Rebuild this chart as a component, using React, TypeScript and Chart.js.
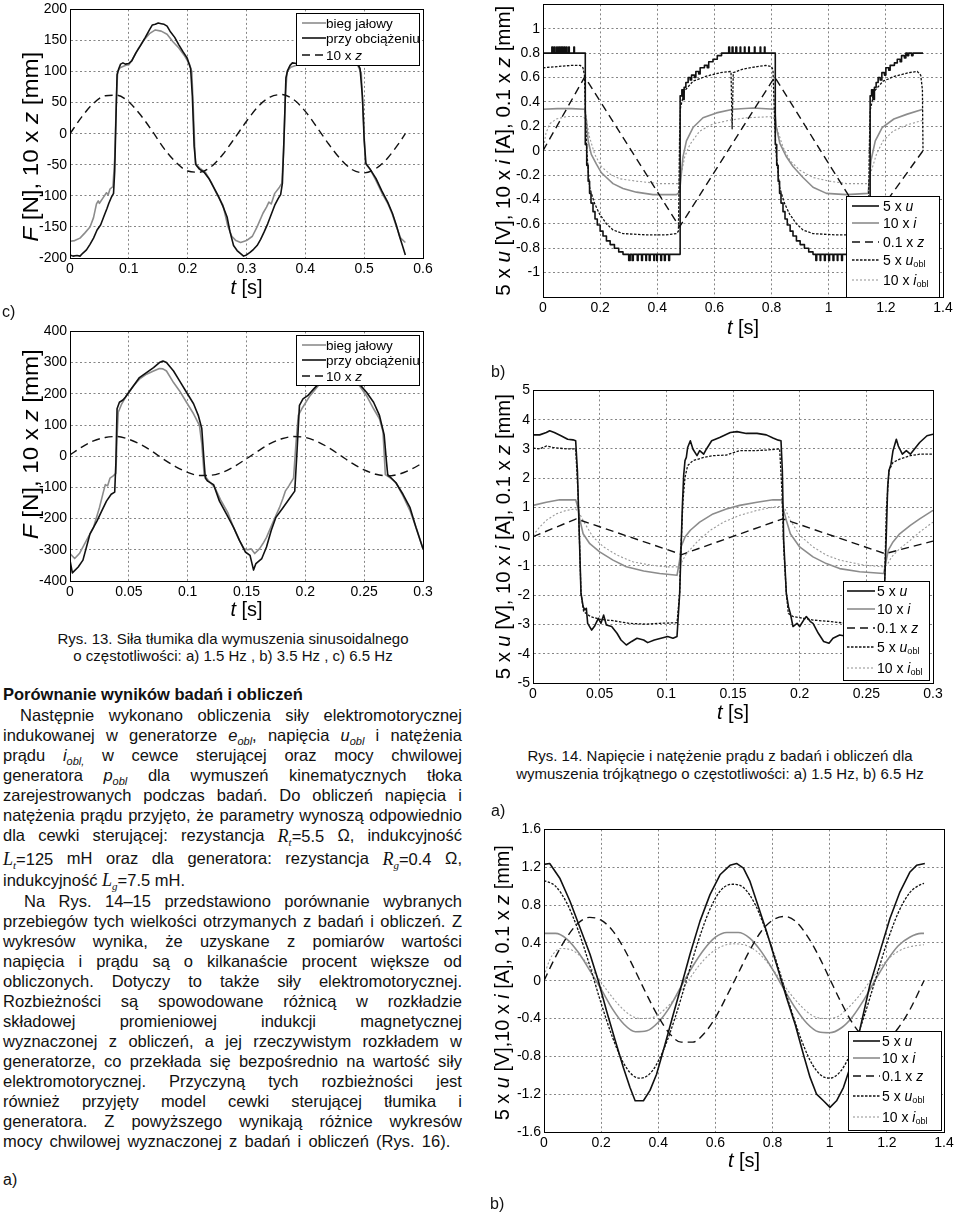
import React, { useEffect, useRef } from 'react';
import { Chart, registerables } from 'chart.js';

Chart.register(...registerables);

type P = [number, number];
type Seg = { t: string; i?: boolean; sub?: boolean };

const SANS = '"Liberation Sans", Arial, Helvetica, sans-serif';

// ---------------- Rys. 13 b) (top-left) ----------------
const r13bIdle: P[] = [
  [0, -173], [0.008, -172], [0.017, -168], [0.025, -160], [0.034, -150], [0.04, -135], [0.045, -113], [0.048, -108],
  [0.05, -112], [0.057, -102], [0.062, -95], [0.065, -98], [0.068, -89], [0.073, -85], [0.076, -40], [0.079, 60],
  [0.081, 100], [0.085, 106], [0.09, 108], [0.095, 110], [0.1, 111], [0.105, 118], [0.115, 135], [0.125, 150],
  [0.135, 161], [0.145, 167], [0.155, 165], [0.165, 160], [0.175, 148], [0.185, 138], [0.195, 125], [0.203, 112],
  [0.207, 100], [0.21, 30], [0.213, -48], [0.22, -55], [0.23, -62], [0.24, -78], [0.25, -98], [0.26, -115],
  [0.268, -148], [0.275, -165], [0.282, -172], [0.29, -175], [0.3, -172], [0.31, -165], [0.318, -150], [0.328, -128],
  [0.334, -118], [0.338, -110], [0.342, -113], [0.348, -96], [0.356, -86], [0.36, -80], [0.363, -30], [0.366, 60],
  [0.369, 100], [0.375, 107], [0.385, 110], [0.4, 125], [0.41, 140], [0.42, 152], [0.43, 163], [0.44, 166],
  [0.45, 162], [0.46, 150], [0.47, 138], [0.48, 124], [0.49, 108], [0.495, 98], [0.499, 20], [0.502, -48],
  [0.51, -57], [0.52, -75], [0.53, -95], [0.54, -112], [0.548, -130], [0.555, -150], [0.562, -168], [0.57, -175],
];
const r13bLoad: P[] = [
  [0, -195], [0.005, -197], [0.012, -196], [0.017, -197], [0.022, -192], [0.028, -187], [0.034, -178], [0.04, -168],
  [0.046, -155], [0.052, -147], [0.058, -132], [0.063, -120], [0.066, -112], [0.07, -103], [0.074, -96], [0.076, -60],
  [0.078, 20], [0.08, 95], [0.083, 105], [0.086, 112], [0.09, 114], [0.094, 112], [0.1, 113], [0.105, 117],
  [0.112, 130], [0.12, 142], [0.128, 155], [0.135, 167], [0.14, 175], [0.145, 176], [0.15, 178], [0.155, 177],
  [0.16, 176], [0.165, 173], [0.17, 165], [0.178, 155], [0.185, 143], [0.192, 132], [0.199, 122], [0.205, 105],
  [0.208, 60], [0.211, -20], [0.214, -50], [0.22, -57], [0.228, -62], [0.236, -72], [0.244, -86], [0.252, -100],
  [0.26, -117], [0.267, -134], [0.272, -158], [0.278, -180], [0.284, -188], [0.29, -193], [0.295, -197], [0.3, -195],
  [0.306, -191], [0.312, -186], [0.318, -180], [0.324, -170], [0.33, -158], [0.336, -145], [0.342, -130], [0.348, -115],
  [0.354, -104], [0.358, -98], [0.361, -80], [0.364, 0], [0.367, 90], [0.37, 102], [0.374, 110], [0.378, 114],
  [0.385, 113], [0.392, 118], [0.4, 132], [0.41, 148], [0.42, 163], [0.43, 173], [0.44, 177], [0.45, 175],
  [0.46, 165], [0.47, 148], [0.48, 130], [0.487, 115], [0.493, 105], [0.497, 60], [0.5, -10], [0.503, -48],
  [0.51, -57], [0.52, -72], [0.53, -92], [0.54, -110], [0.548, -128], [0.555, -148], [0.56, -165], [0.565, -180],
  [0.57, -195],
];
const r13bZ: P[] = [
  [0, 0], [0.02, 27], [0.04, 49], [0.06, 61], [0.08, 62], [0.1, 51], [0.12, 30], [0.14, 4], [0.16, -24], [0.18, -46],
  [0.2, -60], [0.22, -62], [0.24, -53], [0.26, -33], [0.28, -7], [0.3, 20], [0.32, 44], [0.34, 59], [0.36, 63],
  [0.38, 55], [0.4, 36], [0.42, 10], [0.44, -17], [0.46, -41], [0.48, -58], [0.5, -63], [0.52, -56], [0.54, -39],
  [0.56, -14], [0.57, 0],
];

// ---------------- Rys. 13 c) ----------------
const r13cIdle: P[] = [
  [0, -312], [0.004, -328], [0.008, -312], [0.014, -270], [0.02, -228], [0.025, -165], [0.028, -120], [0.03, -91],
  [0.032, -95], [0.034, -70], [0.037, -62], [0.039, -55], [0.04, 60], [0.041, 141], [0.044, 168], [0.048, 194],
  [0.054, 226], [0.059, 247], [0.065, 263], [0.071, 273], [0.076, 281], [0.079, 280], [0.082, 273], [0.088, 236],
  [0.093, 210], [0.099, 173], [0.105, 136], [0.11, 99], [0.112, 40], [0.114, -59], [0.118, -80], [0.123, -100],
  [0.128, -140], [0.134, -180], [0.139, -228], [0.144, -270], [0.148, -297], [0.151, -300], [0.154, -297], [0.157, -312],
  [0.161, -297], [0.164, -280], [0.167, -260], [0.173, -207], [0.178, -165], [0.181, -135], [0.183, -112], [0.186, -95],
  [0.19, -70], [0.192, 40], [0.194, 131], [0.197, 152], [0.204, 194], [0.211, 226], [0.22, 262], [0.228, 278],
  [0.236, 282], [0.242, 262], [0.246, 226], [0.252, 194], [0.258, 152], [0.263, 120], [0.266, 78], [0.268, -59],
  [0.273, -72], [0.277, -85], [0.283, -127], [0.289, -175], [0.294, -228], [0.3, -297],
];
const r13cLoad: P[] = [
  [0, -333], [0.002, -374], [0.007, -355], [0.011, -333], [0.014, -291], [0.017, -249], [0.023, -207], [0.027, -175],
  [0.031, -144], [0.035, -122], [0.038, -115], [0.039, -20], [0.04, 152], [0.042, 173], [0.045, 180], [0.047, 189],
  [0.05, 205], [0.054, 226], [0.059, 252], [0.065, 268], [0.071, 284], [0.076, 300], [0.079, 305], [0.082, 300],
  [0.088, 273], [0.093, 242], [0.099, 205], [0.105, 168], [0.109, 131], [0.112, 89], [0.114, -20], [0.115, -70],
  [0.117, -80], [0.122, -91], [0.127, -144], [0.133, -186], [0.139, -228], [0.144, -270], [0.149, -307], [0.153, -318],
  [0.156, -365], [0.158, -344], [0.163, -328], [0.167, -291], [0.171, -238], [0.175, -196], [0.181, -165], [0.187, -133],
  [0.191, -112], [0.193, 20], [0.195, 163], [0.198, 184], [0.202, 194], [0.207, 215], [0.211, 231], [0.218, 265],
  [0.226, 290], [0.234, 302], [0.24, 280], [0.246, 231], [0.252, 205], [0.258, 173], [0.263, 131], [0.267, 68],
  [0.269, -20], [0.27, -59], [0.273, -70], [0.277, -85], [0.283, -122], [0.289, -165], [0.294, -228], [0.3, -297],
];
const r13cZ: P[] = [
  [0, 4], [0.01, 29], [0.02, 49], [0.03, 60], [0.04, 63], [0.05, 54], [0.06, 38], [0.07, 15], [0.08, -11], [0.09, -34],
  [0.1, -52], [0.11, -62], [0.12, -61], [0.13, -51], [0.14, -32], [0.15, -8], [0.16, 17], [0.17, 40], [0.18, 56],
  [0.19, 63], [0.2, 60], [0.21, 47], [0.22, 27], [0.23, 2], [0.24, -23], [0.25, -44], [0.26, -58], [0.27, -63],
  [0.28, -57], [0.29, -42], [0.3, -21],
];

// ---------------- Rys. 14 a) ----------------
const r14aU: P[] = [
  [0, 0.8], [0.03, 0.8], [0.031, 0.85], [0.035, 0.8], [0.04, 0.85], [0.042, 0.8], [0.048, 0.85], [0.05, 0.8],
  [0.055, 0.85], [0.058, 0.8], [0.062, 0.85], [0.065, 0.8], [0.068, 0.85], [0.07, 0.8], [0.074, 0.85], [0.077, 0.8],
  [0.082, 0.85], [0.084, 0.8], [0.09, 0.85], [0.092, 0.8], [0.108, 0.85], [0.11, 0.8], [0.146, 0.8],
  [0.148, 0.05], [0.153, -0.12], [0.158, -0.25], [0.163, -0.35], [0.168, -0.43], [0.175, -0.5], [0.182, -0.56],
  [0.19, -0.61], [0.2, -0.66], [0.21, -0.7], [0.222, -0.74], [0.235, -0.77], [0.25, -0.8], [0.265, -0.83], [0.28, -0.85],
  [0.3, -0.9], [0.305, -0.85], [0.312, -0.9], [0.316, -0.85], [0.33, -0.9], [0.333, -0.85], [0.345, -0.9], [0.348, -0.85],
  [0.36, -0.9], [0.362, -0.85], [0.372, -0.9], [0.375, -0.85], [0.388, -0.9], [0.39, -0.85], [0.398, -0.9], [0.4, -0.85],
  [0.412, -0.9], [0.415, -0.85], [0.425, -0.9], [0.428, -0.85], [0.44, -0.9], [0.443, -0.85], [0.478, -0.85],
  [0.48, 0.45], [0.486, 0.5], [0.49, 0.42], [0.494, 0.52], [0.5, 0.56], [0.508, 0.6], [0.515, 0.58], [0.52, 0.62],
  [0.53, 0.6], [0.535, 0.65], [0.545, 0.63], [0.55, 0.68], [0.565, 0.7], [0.575, 0.68], [0.58, 0.73], [0.595, 0.75],
  [0.61, 0.78], [0.625, 0.8], [0.65, 0.85], [0.653, 0.8], [0.662, 0.85], [0.665, 0.8], [0.675, 0.85], [0.678, 0.8],
  [0.69, 0.85], [0.692, 0.8], [0.705, 0.85], [0.707, 0.8], [0.72, 0.85], [0.722, 0.8], [0.74, 0.85], [0.742, 0.8],
  [0.76, 0.85], [0.762, 0.8], [0.775, 0.85], [0.777, 0.8], [0.811, 0.8],
  [0.813, 0.05], [0.818, -0.12], [0.823, -0.25], [0.828, -0.35], [0.833, -0.43], [0.84, -0.5], [0.847, -0.56],
  [0.855, -0.61], [0.865, -0.66], [0.875, -0.7], [0.887, -0.74], [0.9, -0.77], [0.915, -0.8], [0.93, -0.83], [0.945, -0.85],
  [0.955, -0.9], [0.958, -0.85], [0.97, -0.9], [0.972, -0.85], [0.985, -0.9], [0.988, -0.85], [1.0, -0.9], [1.003, -0.85],
  [1.015, -0.9], [1.018, -0.85], [1.03, -0.9], [1.032, -0.85], [1.045, -0.9], [1.048, -0.85], [1.143, -0.85],
  [1.145, 0.45], [1.15, 0.5], [1.155, 0.42], [1.16, 0.52], [1.166, 0.56], [1.173, 0.6], [1.18, 0.58], [1.186, 0.64],
  [1.195, 0.62], [1.2, 0.68], [1.21, 0.66], [1.215, 0.7], [1.23, 0.72], [1.24, 0.75], [1.25, 0.73], [1.255, 0.78],
  [1.265, 0.76], [1.27, 0.8], [1.275, 0.78], [1.28, 0.8], [1.29, 0.78], [1.295, 0.8], [1.33, 0.8],
];
const r14aI: P[] = [
  [0, 0.34], [0.05, 0.345], [0.1, 0.345], [0.146, 0.34], [0.152, 0.25], [0.158, 0.08], [0.169, -0.03], [0.187, -0.11],
  [0.204, -0.18], [0.222, -0.22], [0.245, -0.27], [0.28, -0.31], [0.327, -0.34], [0.385, -0.36], [0.467, -0.36],
  [0.478, -0.34], [0.49, -0.05], [0.502, 0.08], [0.525, 0.19], [0.56, 0.27], [0.607, 0.31], [0.665, 0.34], [0.735, 0.35],
  [0.811, 0.34], [0.817, 0.19], [0.829, 0.06], [0.852, -0.05], [0.875, -0.13], [0.91, -0.22], [0.945, -0.3],
  [0.992, -0.35], [1.062, -0.36], [1.138, -0.35], [1.148, -0.08], [1.163, 0.08], [1.187, 0.19], [1.228, 0.26],
  [1.275, 0.3], [1.33, 0.34],
];
const r14aZ: P[] = [[0, 0], [0.146, 0.605], [0.478, -0.625], [0.811, 0.605], [1.138, -0.625], [1.33, 0]];
const r14aUobl: P[] = [
  [0, 0.68], [0.05, 0.69], [0.1, 0.7], [0.13, 0.7], [0.14, 0.68], [0.145, 0.62], [0.15, 0.2], [0.153, 0], [0.163, -0.3],
  [0.18, -0.43], [0.198, -0.52], [0.222, -0.6], [0.245, -0.65], [0.28, -0.68], [0.36, -0.69], [0.43, -0.69],
  [0.467, -0.68], [0.474, -0.66], [0.478, 0.1], [0.481, 0.35], [0.495, 0.49], [0.525, 0.57], [0.57, 0.61], [0.62, 0.64],
  [0.658, 0.65], [0.662, 0.18], [0.666, 0.64], [0.7, 0.67], [0.75, 0.69], [0.78, 0.7], [0.8, 0.69], [0.805, 0.66],
  [0.81, 0.3], [0.815, 0], [0.828, -0.3], [0.845, -0.43], [0.863, -0.52], [0.887, -0.6], [0.91, -0.65], [0.945, -0.68],
  [1.02, -0.69], [1.1, -0.69], [1.138, -0.68], [1.142, 0], [1.145, 0.33], [1.16, 0.49], [1.19, 0.57], [1.23, 0.61],
  [1.28, 0.64], [1.31, 0.65], [1.322, 0.62], [1.328, 0.5], [1.33, 0],
];
const r14aIobl: P[] = [
  [0, 0], [0.01, 0.14], [0.023, 0.22], [0.047, 0.26], [0.082, 0.28], [0.14, 0.28], [0.152, 0.25], [0.163, 0.11],
  [0.181, -0.03], [0.204, -0.13], [0.233, -0.19], [0.268, -0.23], [0.327, -0.25], [0.408, -0.27], [0.472, -0.27],
  [0.484, -0.19], [0.496, -0.05], [0.514, 0.05], [0.548, 0.16], [0.595, 0.22], [0.653, 0.25], [0.712, 0.27], [0.805, 0.28],
  [0.822, 0.16], [0.84, 0.03], [0.864, -0.08], [0.899, -0.16], [0.945, -0.22], [1.003, -0.25], [1.062, -0.27],
  [1.138, -0.27], [1.15, -0.16], [1.167, -0.03], [1.19, 0.08], [1.225, 0.16], [1.272, 0.21], [1.33, 0.25],
];

// ---------------- Rys. 14 b) ----------------
const r14bU: P[] = [
  [0, 3.48], [0.005, 3.48], [0.01, 3.56], [0.0125, 3.62], [0.016, 3.56], [0.021, 3.45], [0.026, 3.33], [0.03, 3.31],
  [0.032, 3.28], [0.0333, 2.26], [0.035, -0.35], [0.036, -1.94], [0.0376, -2.39], [0.0388, -2.5], [0.04, -2.45],
  [0.041, -2.96], [0.044, -3.19], [0.046, -3.07], [0.049, -2.79], [0.051, -2.96], [0.053, -2.68], [0.055, -3.02],
  [0.059, -3.07], [0.063, -3.3], [0.066, -3.53], [0.07, -3.7], [0.074, -3.58], [0.078, -3.47], [0.083, -3.53],
  [0.086, -3.62], [0.091, -3.53], [0.096, -3.47], [0.101, -3.41], [0.105, -3.47], [0.108, -3.41], [0.11, -1.94],
  [0.111, -0.46], [0.112, 1.01], [0.113, 2.09], [0.114, 2.6], [0.115, 2.71], [0.116, 3.05], [0.118, 3.28], [0.12, 2.99],
  [0.123, 2.77], [0.125, 2.94], [0.128, 2.82], [0.13, 2.99], [0.134, 3.28], [0.14, 3.39], [0.148, 3.56], [0.153, 3.59],
  [0.16, 3.53], [0.168, 3.53], [0.175, 3.48], [0.18, 3.37], [0.184, 3.3], [0.186, 3.28], [0.187, 2.26], [0.188, -0.12],
  [0.19, -1.94], [0.1916, -2.39], [0.193, -2.62], [0.195, -3.07], [0.198, -2.96], [0.2, -3.07], [0.203, -2.85],
  [0.205, -2.73], [0.208, -2.9], [0.21, -2.96], [0.214, -3.3], [0.218, -3.58], [0.222, -3.64], [0.225, -3.47],
  [0.23, -3.36], [0.235, -3.4], [0.245, -3.45], [0.255, -3.38], [0.2625, -3.3], [0.2635, -1.94], [0.265, 0.1],
  [0.266, 1.69], [0.267, 2.26], [0.2685, 2.48], [0.27, 2.94], [0.2725, 3.33], [0.274, 3.1], [0.277, 2.82], [0.28, 2.94],
  [0.283, 2.82], [0.287, 3.05], [0.29, 3.22], [0.2955, 3.45], [0.3, 3.5],
];
const r14bI: P[] = [
  [0, 1.07], [0.01, 1.18], [0.02, 1.26], [0.032, 1.26], [0.034, 0.95], [0.035, 0.61], [0.0376, 0.1], [0.0426, -0.24],
  [0.05, -0.52], [0.06, -0.8], [0.07, -1.03], [0.083, -1.17], [0.095, -1.26], [0.108, -1.32], [0.11, -0.8],
  [0.111, -0.35], [0.114, -0.01], [0.118, 0.22], [0.125, 0.5], [0.135, 0.78], [0.145, 0.95], [0.155, 1.07],
  [0.168, 1.18], [0.18, 1.26], [0.1866, 1.26], [0.188, 0.9], [0.19, 0.56], [0.193, 0.1], [0.2, -0.35], [0.21, -0.69],
  [0.22, -0.92], [0.23, -1.09], [0.245, -1.2], [0.263, -1.26], [0.265, -0.8], [0.2665, -0.46], [0.27, -0.18],
  [0.275, 0.1], [0.283, 0.39], [0.29, 0.61], [0.3, 0.9],
];
const r14bZ: P[] = [[0, 0], [0.0325, 0.61], [0.1115, -0.61], [0.1873, 0.61], [0.264, -0.58], [0.3, -0.15]];
const r14bUobl: P[] = [
  [0, 3.03], [0.005, 3.0], [0.01, 3.1], [0.015, 3.05], [0.025, 3.0], [0.032, 3.0], [0.0338, 1.46], [0.035, -0.35],
  [0.036, -1.94], [0.038, -2.56], [0.043, -2.73], [0.05, -2.82], [0.06, -2.87], [0.072, -2.96], [0.085, -2.99],
  [0.095, -2.96], [0.108, -2.94], [0.11, -1.94], [0.111, -0.35], [0.1125, 1.24], [0.114, 2.03], [0.116, 2.43],
  [0.12, 2.6], [0.128, 2.71], [0.135, 2.77], [0.145, 2.79], [0.155, 2.94], [0.165, 2.94], [0.175, 2.96], [0.185, 3.0],
  [0.1868, 1.46], [0.188, -0.35], [0.19, -1.94], [0.1915, -2.62], [0.195, -2.73], [0.203, -2.79], [0.21, -2.85],
  [0.223, -2.9], [0.235, -2.96], [0.25, -2.96], [0.2625, -2.96], [0.2638, -1.37], [0.265, 0.9], [0.267, 2.26],
  [0.27, 2.54], [0.275, 2.65], [0.283, 2.77], [0.29, 2.82], [0.3, 2.82],
];
const r14bIobl: P[] = [
  [0, 0.04], [0.005, 0.33], [0.01, 0.56], [0.0175, 0.78], [0.025, 0.9], [0.032, 0.95], [0.035, 0.78], [0.039, 0.44],
  [0.045, -0.01], [0.053, -0.35], [0.063, -0.63], [0.075, -0.86], [0.088, -0.97], [0.1, -1.03], [0.109, -1.03],
  [0.111, -0.92], [0.115, -0.58], [0.123, -0.18], [0.133, 0.22], [0.143, 0.5], [0.155, 0.73], [0.168, 0.9], [0.18, 1.01],
  [0.1866, 1.04], [0.189, 0.95], [0.193, 0.56], [0.2, 0.05], [0.21, -0.35], [0.22, -0.63], [0.23, -0.8], [0.248, -0.97],
  [0.263, -1.03], [0.2655, -0.97], [0.269, -0.69], [0.275, -0.41], [0.283, -0.12], [0.29, 0.16], [0.3, 0.5],
];

// ---------------- Rys. 15 a) ----------------
const r15aU: P[] = [
  [0, 1.23], [0.02, 1.24], [0.056, 1.08], [0.091, 0.84], [0.126, 0.56], [0.161, 0.28], [0.19, 0], [0.219, -0.32],
  [0.249, -0.63], [0.278, -0.92], [0.301, -1.13], [0.319, -1.27], [0.348, -1.27], [0.371, -1.16], [0.394, -0.99],
  [0.424, -0.67], [0.453, -0.35], [0.482, -0.04], [0.511, 0.28], [0.546, 0.63], [0.581, 0.91], [0.616, 1.12],
  [0.651, 1.22], [0.674, 1.24], [0.698, 1.19], [0.721, 1.05], [0.744, 0.84], [0.779, 0.52], [0.814, 0.17],
  [0.849, -0.18], [0.879, -0.46], [0.908, -0.78], [0.931, -1.02], [0.954, -1.2], [0.978, -1.27], [1.001, -1.34],
  [1.024, -1.27], [1.048, -1.13], [1.071, -0.92], [1.094, -0.67], [1.118, -0.35], [1.141, -0.04], [1.176, 0.31],
  [1.211, 0.66], [1.246, 0.94], [1.281, 1.15], [1.304, 1.22], [1.333, 1.24],
];
const r15aI: P[] = [
  [0, 0.5], [0.04, 0.5], [0.08, 0.44], [0.12, 0.3], [0.16, 0.11], [0.2, -0.09], [0.24, -0.3], [0.28, -0.46],
  [0.32, -0.54], [0.36, -0.53], [0.4, -0.44], [0.44, -0.28], [0.48, -0.06], [0.52, 0.15], [0.56, 0.33], [0.6, 0.46],
  [0.64, 0.51], [0.68, 0.51], [0.72, 0.45], [0.76, 0.31], [0.8, 0.12], [0.84, -0.09], [0.88, -0.29], [0.92, -0.45],
  [0.96, -0.54], [1.0, -0.55], [1.04, -0.5], [1.08, -0.38], [1.12, -0.2], [1.16, 0.01], [1.2, 0.21], [1.24, 0.37],
  [1.28, 0.46], [1.32, 0.5], [1.33, 0.5],
];
const r15aZ: P[] = [
  [0, 0], [0.04, 0.25], [0.08, 0.46], [0.12, 0.61], [0.16, 0.67], [0.2, 0.64], [0.24, 0.53], [0.28, 0.34], [0.32, 0.1],
  [0.36, -0.15], [0.4, -0.38], [0.44, -0.56], [0.48, -0.65], [0.52, -0.65], [0.56, -0.56], [0.6, -0.39], [0.64, -0.16],
  [0.68, 0.08], [0.72, 0.32], [0.76, 0.52], [0.8, 0.64], [0.84, 0.68], [0.88, 0.63], [0.92, 0.48], [0.96, 0.27],
  [1.0, 0.02], [1.04, -0.23], [1.08, -0.45], [1.12, -0.6], [1.16, -0.66], [1.2, -0.63], [1.24, -0.5], [1.28, -0.31],
  [1.33, 0],
];
const r15aUobl: P[] = [
  [0, 1.06], [0.04, 1.0], [0.08, 0.82], [0.12, 0.53], [0.16, 0.16], [0.2, -0.24], [0.24, -0.6], [0.28, -0.88],
  [0.32, -1.02], [0.34, -1.03], [0.38, -0.95], [0.42, -0.72], [0.46, -0.38], [0.5, 0.02], [0.54, 0.42], [0.58, 0.75],
  [0.62, 0.96], [0.66, 1.02], [0.7, 0.98], [0.74, 0.8], [0.78, 0.5], [0.82, 0.14], [0.86, -0.26], [0.9, -0.62],
  [0.94, -0.89], [0.98, -1.02], [1.0, -1.03], [1.04, -0.95], [1.08, -0.72], [1.12, -0.38], [1.16, 0.01], [1.2, 0.4],
  [1.24, 0.72], [1.28, 0.93], [1.32, 1.02], [1.33, 1.03],
];
const r15aIobl: P[] = [
  [0, 0.05], [0.02, 0.22], [0.04, 0.31], [0.06, 0.34], [0.1, 0.32], [0.14, 0.22], [0.18, 0.07], [0.22, -0.1],
  [0.26, -0.25], [0.3, -0.36], [0.34, -0.4], [0.38, -0.39], [0.42, -0.31], [0.46, -0.18], [0.5, -0.02], [0.54, 0.15],
  [0.58, 0.28], [0.62, 0.36], [0.66, 0.39], [0.7, 0.38], [0.74, 0.32], [0.78, 0.2], [0.82, 0.04], [0.86, -0.13],
  [0.9, -0.27], [0.94, -0.37], [0.98, -0.4], [1.02, -0.39], [1.06, -0.3], [1.1, -0.17], [1.14, -0.01], [1.18, 0.15],
  [1.22, 0.27], [1.26, 0.34], [1.3, 0.37], [1.33, 0.38],
];

// ---------------- labels ----------------
const titleF: Seg[] = [{ t: 'F', i: true }, { t: ' [N], 10 x ' }, { t: 'z', i: true }, { t: ' [mm]' }];
const titleUIZ: Seg[] = [{ t: '5 x ' }, { t: 'u', i: true }, { t: ' [V], 10 x ' }, { t: 'i', i: true }, { t: ' [A], 0.1 x ' }, { t: 'z', i: true }, { t: ' [mm]' }];
const titleUIZ2: Seg[] = [{ t: '5 x ' }, { t: 'u', i: true }, { t: ' [V],10 x ' }, { t: 'i', i: true }, { t: ' [A], 0.1 x ' }, { t: 'z', i: true }, { t: ' [mm]' }];
const titleT: Seg[] = [{ t: 't', i: true }, { t: ' [s]' }];
const legendF: Seg[][] = [[{ t: 'bieg jałowy' }], [{ t: 'przy obciążeniu' }], [{ t: '10 x ' }, { t: 'z', i: true }]];
const legendU: Seg[][] = [
  [{ t: '5 x ' }, { t: 'u', i: true }],
  [{ t: '10 x ' }, { t: 'i', i: true }],
  [{ t: '0.1 x ' }, { t: 'z', i: true }],
  [{ t: '5 x ' }, { t: 'u', i: true }, { t: 'obl', sub: true }],
  [{ t: '10 x ' }, { t: 'i', i: true }, { t: 'obl', sub: true }],
];

const STYLES: Record<string, { color: string; width: number; dash: number[] }> = {
  black: { color: '#111111', width: 1.6, dash: [] },
  gray: { color: '#8c8c8c', width: 1.6, dash: [] },
  dash: { color: '#111111', width: 1.4, dash: [8, 5] },
  bdot: { color: '#111111', width: 1.3, dash: [2.5, 1.5] },
  gdot: { color: '#9a9a9a', width: 1.1, dash: [2, 2] },
};

interface Series { data: P[]; style: string; stepped?: boolean; smooth?: boolean; order: number }
interface Axis { min: number; max: number; step: number; hide?: number[] }
interface Legend { x: number; y: number; w: number; h: number; s0: number; s1: number; tx: number; rows: number[]; labels: Seg[][]; font: number }
interface PlotCfg {
  box: { l: number; t: number; r: number; b: number };
  ml: number; mt: number; mr: number; mb: number;
  x: Axis; y: Axis; series: Series[];
  yTitle: { segs: Seg[]; dx: number; dy: number; len: number; size: number };
  xTitle: { segs: Seg[]; dy: number; size: number };
  legend: Legend;
}

const fmt = (v: number) => String(Math.round(v * 10000) / 10000);

function segFont(s: Seg, size: number) {
  const sz = s.sub ? size * 0.65 : size;
  return `${s.i ? 'italic ' : ''}${sz}px ${SANS}`;
}
function measureSegs(ctx: CanvasRenderingContext2D, segs: Seg[], size: number) {
  let w = 0;
  for (const s of segs) { ctx.font = segFont(s, size); w += ctx.measureText(s.t).width; }
  return w;
}
function drawSegs(ctx: CanvasRenderingContext2D, segs: Seg[], x: number, y: number, size: number) {
  let cx = x;
  ctx.textAlign = 'left';
  ctx.textBaseline = 'alphabetic';
  for (const s of segs) {
    ctx.font = segFont(s, size);
    ctx.fillText(s.t, cx, s.sub ? y + size * 0.52 : y + size * 0.36);
    cx += ctx.measureText(s.t).width;
  }
}

function buildConfig(cfg: PlotCfg): any {
  const datasets = cfg.series.map((s) => {
    const st = STYLES[s.style];
    return {
      data: s.data.map(([x, y]) => ({ x, y })),
      borderColor: st.color,
      borderWidth: st.width,
      borderDash: st.dash,
      pointRadius: 0,
      fill: false,
      tension: 0,
      cubicInterpolationMode: s.smooth ? 'monotone' : 'default',
      stepped: s.stepped ? 'before' : false,
      order: s.order,
      borderJoinStyle: 'round',
    };
  });
  const tickFont = { family: SANS, size: 14 };
  const mkScale = (ax: Axis, isX: boolean) => ({
    type: 'linear',
    min: ax.min,
    max: ax.max,
    afterFit: (sc: any) => { if (isX) sc.height = cfg.mb; else sc.width = cfg.ml; },
    ticks: {
      stepSize: ax.step,
      autoSkip: false,
      maxRotation: 0,
      minRotation: 0,
      padding: 3,
      color: '#000',
      font: tickFont,
      callback: (v: number) => (ax.hide && ax.hide.some((h) => Math.abs(h - v) < 1e-9) ? '' : fmt(v)),
    },
    grid: { color: '#666', lineWidth: 0.8, drawTicks: false },
    border: { display: true, color: '#000', width: 1, dash: [2, 2.5] },
  });
  const deco = {
    id: 'deco',
    afterDatasetsDraw(chart: any) {
      const ctx: CanvasRenderingContext2D = chart.ctx;
      const a = chart.chartArea;
      ctx.save();
      ctx.setLineDash([]);
      ctx.strokeStyle = '#000';
      ctx.lineWidth = 1;
      ctx.strokeRect(Math.round(a.left) + 0.5, Math.round(a.top) + 0.5, Math.round(a.right - a.left), Math.round(a.bottom - a.top));
      // legend box
      const L = cfg.legend;
      const bx = Math.round(a.left + L.x);
      const by = Math.round(a.top + L.y);
      ctx.fillStyle = '#fff';
      ctx.fillRect(bx, by, L.w, L.h);
      ctx.strokeRect(bx + 0.5, by + 0.5, L.w, L.h);
      L.rows.forEach((ry, k) => {
        const ds = chart.data.datasets[k];
        const yy = by + ry;
        ctx.strokeStyle = ds.borderColor;
        ctx.lineWidth = ds.borderWidth;
        ctx.setLineDash(ds.borderDash || []);
        ctx.beginPath();
        ctx.moveTo(bx + L.s0, yy);
        ctx.lineTo(bx + L.s1, yy);
        ctx.stroke();
        ctx.setLineDash([]);
        ctx.fillStyle = '#000';
        drawSegs(ctx, L.labels[k], bx + L.tx, yy, L.font);
      });
      // y title
      const Y = cfg.yTitle;
      const w = measureSegs(ctx, Y.segs, Y.size);
      ctx.save();
      ctx.translate(a.left + Y.dx, (a.top + a.bottom) / 2 + Y.dy);
      ctx.rotate(-Math.PI / 2);
      ctx.scale(Y.len / w, 1);
      ctx.fillStyle = '#000';
      drawSegs(ctx, Y.segs, -w / 2, 0, Y.size);
      ctx.restore();
      // x title
      const X = cfg.xTitle;
      const wx = measureSegs(ctx, X.segs, X.size);
      ctx.fillStyle = '#000';
      drawSegs(ctx, X.segs, (a.left + a.right) / 2 - wx / 2, a.bottom + X.dy, X.size);
      ctx.restore();
    },
  };
  return {
    type: 'line',
    data: { datasets },
    options: {
      animation: false,
      responsive: false,
      devicePixelRatio: 1,
      layout: { padding: { left: 0, top: cfg.mt, right: cfg.mr, bottom: 0 } },
      plugins: { legend: { display: false }, tooltip: { enabled: false } },
      scales: { x: mkScale(cfg.x, true), y: mkScale(cfg.y, false) },
    },
    plugins: [deco],
  };
}

function Plot({ cfg }: { cfg: PlotCfg }) {
  const ref = useRef<HTMLCanvasElement>(null);
  useEffect(() => {
    const chart = new Chart(ref.current as HTMLCanvasElement, buildConfig(cfg));
    return () => chart.destroy();
  }, []);
  const { l, t, r, b } = cfg.box;
  const W = r - l + cfg.ml + cfg.mr;
  const H = b - t + cfg.mt + cfg.mb;
  return (
    <canvas ref={ref} width={W} height={H}
      style={{ position: 'absolute', left: l - cfg.ml, top: t - cfg.mt, width: W, height: H }} />
  );
}

const LEG_F = { s0: 6, s1: 30, tx: 30, font: 13.5, labels: legendF };
const LEG_U = { font: 14, labels: legendU };

const plots: PlotCfg[] = [
  {
    box: { l: 70, t: 6, r: 423, b: 258 }, ml: 70, mt: 8, mr: 16, mb: 42,
    x: { min: 0, max: 0.6, step: 0.1 }, y: { min: -200, max: 200, step: 50 },
    series: [
      { data: r13bIdle, style: 'gray', order: 2 },
      { data: r13bLoad, style: 'black', order: 1 },
      { data: r13bZ, style: 'dash', smooth: true, order: 0 },
    ],
    yTitle: { segs: titleF, dx: -40, dy: 13, len: 190, size: 22 },
    xTitle: { segs: titleT, dy: 29, size: 20 },
    legend: { x: 226, y: 4, w: 123, h: 52, rows: [10, 25, 42], ...LEG_F },
  },
  {
    box: { l: 70, t: 328, r: 423, b: 581 }, ml: 70, mt: 8, mr: 16, mb: 42,
    x: { min: 0, max: 0.3, step: 0.05 }, y: { min: -400, max: 400, step: 100 },
    series: [
      { data: r13cIdle, style: 'gray', order: 2 },
      { data: r13cLoad, style: 'black', order: 1 },
      { data: r13cZ, style: 'dash', smooth: true, order: 0 },
    ],
    yTitle: { segs: titleF, dx: -40, dy: -12, len: 190, size: 22 },
    xTitle: { segs: titleT, dy: 28, size: 20 },
    legend: { x: 226, y: 4, w: 123, h: 50, rows: [10, 25, 41], ...LEG_F },
  },
  {
    box: { l: 543, t: 3, r: 943, b: 297 }, ml: 63, mt: 10, mr: 15, mb: 42,
    x: { min: 0, max: 1.4, step: 0.2 }, y: { min: -1.2, max: 1.2, step: 0.2, hide: [-1.2, 1.2] },
    series: [
      { data: r14aU, style: 'black', stepped: true, order: 0 },
      { data: r14aI, style: 'gray', order: 3 },
      { data: r14aZ, style: 'dash', order: 1 },
      { data: r14aUobl, style: 'bdot', order: 2 },
      { data: r14aIobl, style: 'gdot', order: 4 },
    ],
    yTitle: { segs: titleUIZ, dx: -40, dy: 0, len: 290, size: 20 },
    xTitle: { segs: titleT, dy: 30, size: 20 },
    legend: { x: 303, y: 192, w: 93, h: 101, s0: 6, s1: 33, tx: 37, rows: [10, 27, 46, 64, 84], ...LEG_U },
  },
  {
    box: { l: 533, t: 389, r: 933, b: 683 }, ml: 53, mt: 10, mr: 15, mb: 42,
    x: { min: 0, max: 0.3, step: 0.05 }, y: { min: -5, max: 5, step: 1 },
    series: [
      { data: r14bU, style: 'black', order: 0 },
      { data: r14bI, style: 'gray', order: 3 },
      { data: r14bZ, style: 'dash', order: 1 },
      { data: r14bUobl, style: 'bdot', order: 2 },
      { data: r14bIobl, style: 'gdot', order: 4 },
    ],
    yTitle: { segs: titleUIZ, dx: -30, dy: 0, len: 285, size: 20 },
    xTitle: { segs: titleT, dy: 29, size: 20 },
    legend: { x: 310, y: 191, w: 86, h: 99, s0: 4, s1: 32, tx: 34, rows: [10, 28, 47, 66, 87], ...LEG_U },
  },
  {
    box: { l: 544, t: 828, r: 944, b: 1132 }, ml: 64, mt: 10, mr: 15, mb: 42,
    x: { min: 0, max: 1.4, step: 0.2 }, y: { min: -1.6, max: 1.6, step: 0.4 },
    series: [
      { data: r15aU, style: 'black', order: 0 },
      { data: r15aI, style: 'gray', smooth: true, order: 3 },
      { data: r15aZ, style: 'dash', smooth: true, order: 1 },
      { data: r15aUobl, style: 'bdot', smooth: true, order: 2 },
      { data: r15aIobl, style: 'gdot', smooth: true, order: 4 },
    ],
    yTitle: { segs: titleUIZ2, dx: -42, dy: 2, len: 275, size: 20 },
    xTitle: { segs: titleT, dy: 28, size: 20 },
    legend: { x: 304, y: 202, w: 93, h: 99, s0: 5, s1: 32, tx: 34, rows: [10, 27, 45, 65, 86], ...LEG_U },
  },
];

// ---------------- page text ----------------
const tm = (a: string, b: string) =>
  `<span style="font-family:'Liberation Serif',serif;font-style:italic;font-size:18px">${a}</span><sub style="font-family:'Liberation Serif',serif;font-style:italic;font-size:11px">${b}</sub>`;
const it = (a: string, b: string) => `<i>${a}<sub style="font-size:11px">${b}</sub></i>`;
const MARKS: [string, string][] = [
  ['#Rt', tm('R', 't')], ['#Lt', tm('L', 't')], ['#Rg', tm('R', 'g')], ['#Lg', tm('L', 'g')],
  ['#e', it('e', 'obl')], ['#u', it('u', 'obl')], ['#i', it('i', 'obl,')], ['#p', it('p', 'obl')],
];
const markup = (w: string) => MARKS.reduce((s, [k, v]) => s.split(k).join(v), w);

const bodyLines: string[] = [
  'Następnie wykonano obliczenia siły elektromotorycznej',
  'indukowanej w generatorze #e, napięcia #u i natężenia',
  'prądu #i w cewce sterującej oraz mocy chwilowej',
  'generatora #p dla wymuszeń kinematycznych tłoka',
  'zarejestrowanych podczas badań. Do obliczeń napięcia i',
  'natężenia prądu przyjęto, że parametry wynoszą odpowiednio',
  'dla cewki sterującej: rezystancja #Rt=5.5 Ω, indukcyjność',
  '#Lt=125 mH oraz dla generatora: rezystancja #Rg=0.4 Ω,',
  'indukcyjność #Lg=7.5 mH.',
  'Na Rys. 14–15 przedstawiono porównanie wybranych',
  'przebiegów tych wielkości otrzymanych z badań i obliczeń. Z',
  'wykresów wynika, że uzyskane z pomiarów wartości',
  'napięcia i prądu są o kilkanaście procent większe od',
  'obliczonych. Dotyczy to także siły elektromotorycznej.',
  'Rozbieżności są spowodowane różnicą w rozkładzie',
  'składowej promieniowej indukcji magnetycznej',
  'wyznaczonej z obliczeń, a jej rzeczywistym rozkładem w',
  'generatorze, co przekłada się bezpośrednio na wartość siły',
  'elektromotorycznej. Przyczyną tych rozbieżności jest',
  'również przyjęty model cewki sterującej tłumika i',
  'generatora. Z powyższego wynikają różnice wykresów',
  'mocy chwilowej wyznaczonej z badań i obliczeń (Rys. 16).',
];
const bodyY = [716, 736, 756, 776, 796, 816, 836, 859, 880, 902, 922, 942, 962, 982, 1002, 1022, 1042, 1062, 1082, 1102, 1122, 1142];

function BodyLine({ text, idx }: { text: string; idx: number }) {
  const left = idx === 0 ? 20 : idx === 9 ? 24 : 3;
  const justify = idx !== 8 && idx !== 21;
  const words = text.split(' ');
  return (
    <div style={{
      position: 'absolute', left, top: bodyY[idx] - 10, width: 462 - left, height: 20, lineHeight: '20px',
      display: justify ? 'flex' : 'block', justifyContent: 'space-between', whiteSpace: 'nowrap',
      font: `16.5px ${SANS}`, color: '#111', wordSpacing: idx === 21 ? '2.6px' : undefined,
    }}>
      {justify
        ? words.map((w, k) => <span key={k} dangerouslySetInnerHTML={{ __html: markup(w) }} />)
        : <span dangerouslySetInnerHTML={{ __html: markup(text) }} />}
    </div>
  );
}

function Label({ text, x, y, size = 16, align = 'left', width }: { text: string; x: number; y: number; size?: number; align?: any; width?: number }) {
  return (
    <div style={{
      position: 'absolute', left: x, top: y - 10, width, height: 20, lineHeight: '20px',
      font: `${size}px ${SANS}`, color: '#111', textAlign: align, whiteSpace: 'nowrap',
    }}>{text}</div>
  );
}

export default function App() {
  return (
    <div style={{ position: 'absolute', left: 0, top: 0, width: 960, height: 1215, background: '#fff', overflow: 'hidden' }}>
      {plots.map((p, k) => <Plot key={k} cfg={p} />)}
      <Label text="c)" x={2} y={313} />
      <Label text="Rys. 13. Siła tłumika dla wymuszenia sinusoidalnego" x={13} y={640} size={15} align="center" width={440} />
      <Label text="o częstotliwości: a) 1.5 Hz , b) 3.5 Hz , c) 6.5 Hz" x={13} y={657} size={15} align="center" width={440} />
      <div style={{ position: 'absolute', left: 3, top: 685, height: 20, lineHeight: '20px', font: `bold 16.5px ${SANS}`, color: '#111', whiteSpace: 'nowrap' }}>
        Porównanie wyników badań i obliczeń
      </div>
      {bodyLines.map((h, k) => <BodyLine key={k} text={h} idx={k} />)}
      <Label text="a)" x={3} y={1181} />
      <Label text="b)" x={491} y={373} />
      <Label text="Rys. 14. Napięcie i natężenie prądu z badań i obliczeń dla" x={500} y={757} size={15} align="center" width={440} />
      <Label text="wymuszenia trójkątnego o częstotliwości: a) 1.5 Hz, b) 6.5 Hz" x={500} y={775} size={15} align="center" width={440} />
      <Label text="a)" x={491} y={812} />
      <Label text="b)" x={490} y={1205} />
    </div>
  );
}
